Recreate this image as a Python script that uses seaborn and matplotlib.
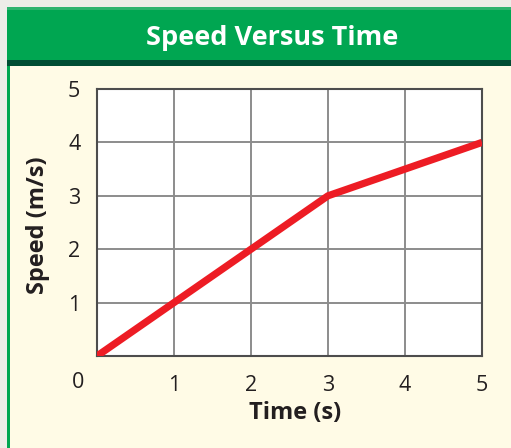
import matplotlib
matplotlib.use('Agg')
import matplotlib.pyplot as plt
from matplotlib.patches import Rectangle
import seaborn as sns
import pandas as pd

# Datos
time_s = [0, 1, 2, 3, 4, 5]
speed_ms = [0, 1, 2, 3, 3.5, 4]
x_ticks = [1, 2, 3, 4, 5]
y_ticks = [1, 2, 3, 4, 5]

title = "Speed Versus Time"
x_label = "Time (s)"
y_label = "Speed (m/s)"

df = pd.DataFrame({"time": time_s, "speed": speed_ms})

sns.set_style("white")
plt.rcParams['font.family'] = ['Open Sans', 'DejaVu Sans']

cream = "#FFFBE6"
green = "#00A651"
dark_green = "#004D33"
ink = "#231F20"

fig = plt.figure(figsize=(5.11, 4.48), dpi=100)
fig.patch.set_facecolor("#EDEDE8")

W, H = 511, 448
def fx(px):
    return px / W
def fy(py):
    return 1 - py / H

#Fondo crema, borde y barra de título (detrás de los ejes)
def box(x0, y0, x1, y1, color):
    fig.patches.append(Rectangle((fx(x0), fy(y1)), fx(x1) - fx(x0), fy(y0) - fy(y1),
                                 transform=fig.transFigure, facecolor=color,
                                 edgecolor="none", zorder=-5))

box(7, 66, 511, 448, cream)
box(7, 60, 10, 448, green)
box(7, 7, 511, 60, green)
box(7, 7, 511, 10, "#2DB36E")
box(7, 60, 511, 66, dark_green)
fig.text(fx(272), fy(38), title, ha="center", va="center", color="white",
         fontsize=19.5, fontweight="bold")

ax = fig.add_axes([fx(97), fy(356), fx(482) - fx(97), fy(89) - fy(356)])
ax.set_facecolor("white")

sns.lineplot(data=df, x="time", y="speed", ax=ax, color="#ED1C24", linewidth=5.2,
             solid_capstyle="butt", zorder=3)

ax.set_xlim(0, 5)
ax.set_ylim(0, 5)
ax.set_xticks(x_ticks)
ax.set_yticks(y_ticks)
ax.grid(True, color="#8C8C8C", linewidth=1.4)
ax.set_axisbelow(True)
for s in ax.spines.values():
    s.set_color("#4D4D4D")
    s.set_linewidth(1.5)
ax.tick_params(axis="both", length=0, labelsize=15.5, colors=ink)
ax.tick_params(axis="x", pad=14)
ax.tick_params(axis="y", pad=12)

ax.set_xlabel(x_label, fontsize=17, fontweight="bold", color=ink)
ax.set_ylabel(y_label, fontsize=17, fontweight="bold", color=ink)
ax.xaxis.set_label_coords((295 - 97) / (482 - 97), -(413 - 356) / (356 - 89))
ax.yaxis.set_label_coords(-(97 - 38) / (482 - 97), (356 - 225) / (356 - 89))
ax.xaxis.label.set_va("center")
ax.yaxis.label.set_va("center")

fig.text(fx(78), fy(382), "0", ha="center", va="center", fontsize=15.5, color=ink)

plt.savefig("out.png", dpi=100)
